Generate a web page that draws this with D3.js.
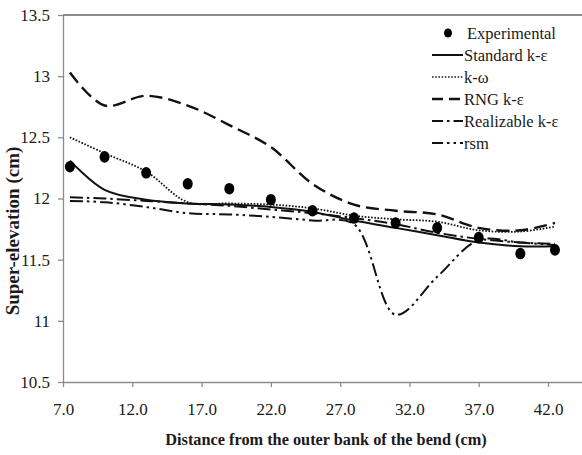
<html>
<head>
<style>
    body { margin:0; background:white; }
    .axis path, .axis line { stroke:#8c8c8c; stroke-width:1.3; }
</style>
</head>
<body>
<div id="chart"></div>
<script src="https://cdn.jsdelivr.net/npm/d3@7"></script>
<script>
// distance from outer bank (cm) - same stations for every series
var xs = [7.5, 10, 13, 16, 19, 22, 25, 28, 31, 34, 37, 40, 42.5];

var experimental = [12.26, 12.34, 12.21, 12.12, 12.08, 11.99, 11.90, 11.84, 11.80, 11.76, 11.68, 11.55, 11.58];
var standardKE   = [12.31, 12.07, 11.99, 11.96, 11.95, 11.93, 11.89, 11.82, 11.76, 11.70, 11.64, 11.61, 11.61];
var kOmega       = [12.50, 12.37, 12.22, 11.97, 11.96, 11.95, 11.92, 11.86, 11.83, 11.81, 11.74, 11.73, 11.77];
var rngKE        = [13.03, 12.76, 12.84, 12.76, 12.60, 12.42, 12.12, 11.95, 11.90, 11.87, 11.76, 11.74, 11.80];
var realizableKE = [12.01, 12.00, 11.98, 11.96, 11.94, 11.91, 11.88, 11.84, 11.79, 11.72, 11.67, 11.64, 11.63];
var rsm          = [11.98, 11.97, 11.93, 11.88, 11.87, 11.85, 11.82, 11.79, 11.05, 11.36, 11.66, 11.64, 11.62];

var xTicks = [7, 12, 17, 22, 27, 32, 37, 42];
var yTicks = [10.5, 11, 11.5, 12, 12.5, 13, 13.5];

var series = [
    {label:"Standard k-\u03b5",   values:standardKE,   dash:null,              width:2},
    {label:"k-\u03c9",            values:kOmega,       dash:"1.6,1.6",         width:1.8},
    {label:"RNG k-\u03b5",        values:rngKE,        dash:"13,6",            width:2.4},
    {label:"Realizable k-\u03b5", values:realizableKE, dash:"13,4,2.5,4",      width:2},
    {label:"rsm",                 values:rsm,          dash:"13,4,2.5,4,2.5,4",width:2}
];

var FONT = "'Liberation Serif', 'Times New Roman', serif";
var W = 582, H = 455;
var svg = d3.select("#chart").append("svg")
    .attr("width", W)
    .attr("height", H)
    .attr("font-family", FONT);

var x = d3.scaleLinear().domain([7, 44.45]).range([63, 582]);
var y = d3.scaleLinear().domain([10.5, 13.5]).range([382, 15]);

// top frame line
svg.append("line")
    .attr("x1", x(7)).attr("x2", W)
    .attr("y1", y(13.5)).attr("y2", y(13.5))
    .style("stroke", "#8c8c8c").style("stroke-width", 2);

var xAxis = svg.append("g")
    .attr("class", "axis")
    .attr("transform", "translate(0," + y(10.5) + ")")
    .call(d3.axisBottom(x).tickValues(xTicks).tickSize(5).tickSizeOuter(0).tickPadding(16)
        .tickFormat(d3.format(".1f")));

var yAxis = svg.append("g")
    .attr("class", "axis")
    .attr("transform", "translate(" + x(7) + ",0)")
    .call(d3.axisLeft(y).tickValues(yTicks).tickSize(5).tickSizeOuter(0).tickPadding(8)
        .tickFormat(function(d){ return d; }));

svg.selectAll(".axis")
    .attr("font-family", FONT)
    .attr("font-size", 17);
svg.selectAll(".axis text").style("fill", "#1a1a1a");
svg.selectAll(".axis .domain").style("stroke", "#8c8c8c");

// model curves
var line = d3.line()
    .x(function(d, i){ return x(xs[i]); })
    .y(function(d){ return y(d); })
    .curve(d3.curveCatmullRom.alpha(0.5));

svg.append("g").selectAll("path")
    .data(series)
    .enter()
    .append("path")
    .attr("d", function(s){ return line(s.values); })
    .style("fill", "none")
    .style("stroke", "#111")
    .style("stroke-width", function(s){ return s.width; })
    .style("stroke-dasharray", function(s){ return s.dash; });

// experimental points
svg.append("g").selectAll("ellipse")
    .data(experimental)
    .enter()
    .append("ellipse")
    .attr("cx", function(d, i){ return x(xs[i]); })
    .attr("cy", function(d){ return y(d); })
    .attr("rx", 5)
    .attr("ry", 5.8)
    .style("fill", "#000");

// legend
var legend = svg.append("g").attr("transform", "translate(432,33)");
legend.append("ellipse")
    .attr("cx", 16).attr("cy", 0).attr("rx", 4).attr("ry", 4.5)
    .style("fill", "#000");
legend.append("text")
    .attr("x", 35).attr("y", 0).attr("dy", "0.35em")
    .attr("font-family", FONT)
    .style("font-size", "16.5px")
    .style("fill", "#1a1a1a")
    .text("Experimental");

var rows = legend.selectAll("g.row")
    .data(series)
    .enter()
    .append("g")
    .attr("class", "row")
    .attr("transform", function(d, i){ return "translate(0," + (i + 1) * 22 + ")"; });
rows.append("line")
    .attr("x1", 0).attr("x2", 31)
    .attr("y1", 0).attr("y2", 0)
    .style("stroke", function(d, i){ return i == 1 ? "#555" : "#111"; })
    .style("stroke-width", function(d){ return d.width; })
    .style("stroke-dasharray", function(d){ return d.dash ? d.dash.replace(/13/g, "11") : null; });
rows.append("text")
    .attr("x", 32).attr("y", 0).attr("dy", "0.35em")
    .attr("font-family", FONT)
    .style("font-size", "16.5px")
    .style("fill", "#1a1a1a")
    .text(function(d){ return d.label; });

// axis titles
svg.append("text")
    .attr("x", 326).attr("y", 445)
    .attr("text-anchor", "middle")
    .attr("font-family", FONT)
    .style("font-size", "16.3px")
    .style("font-weight", "bold")
    .style("fill", "#1a1a1a")
    .text("Distance from the outer bank of the bend (cm)");

svg.append("text")
    .attr("transform", "translate(19,231) rotate(-90)")
    .attr("text-anchor", "middle")
    .attr("font-family", FONT)
    .style("font-size", "19px")
    .style("font-weight", "bold")
    .style("fill", "#1a1a1a")
    .text("Super-elevation (cm)");
</script>
</body>
</html>
